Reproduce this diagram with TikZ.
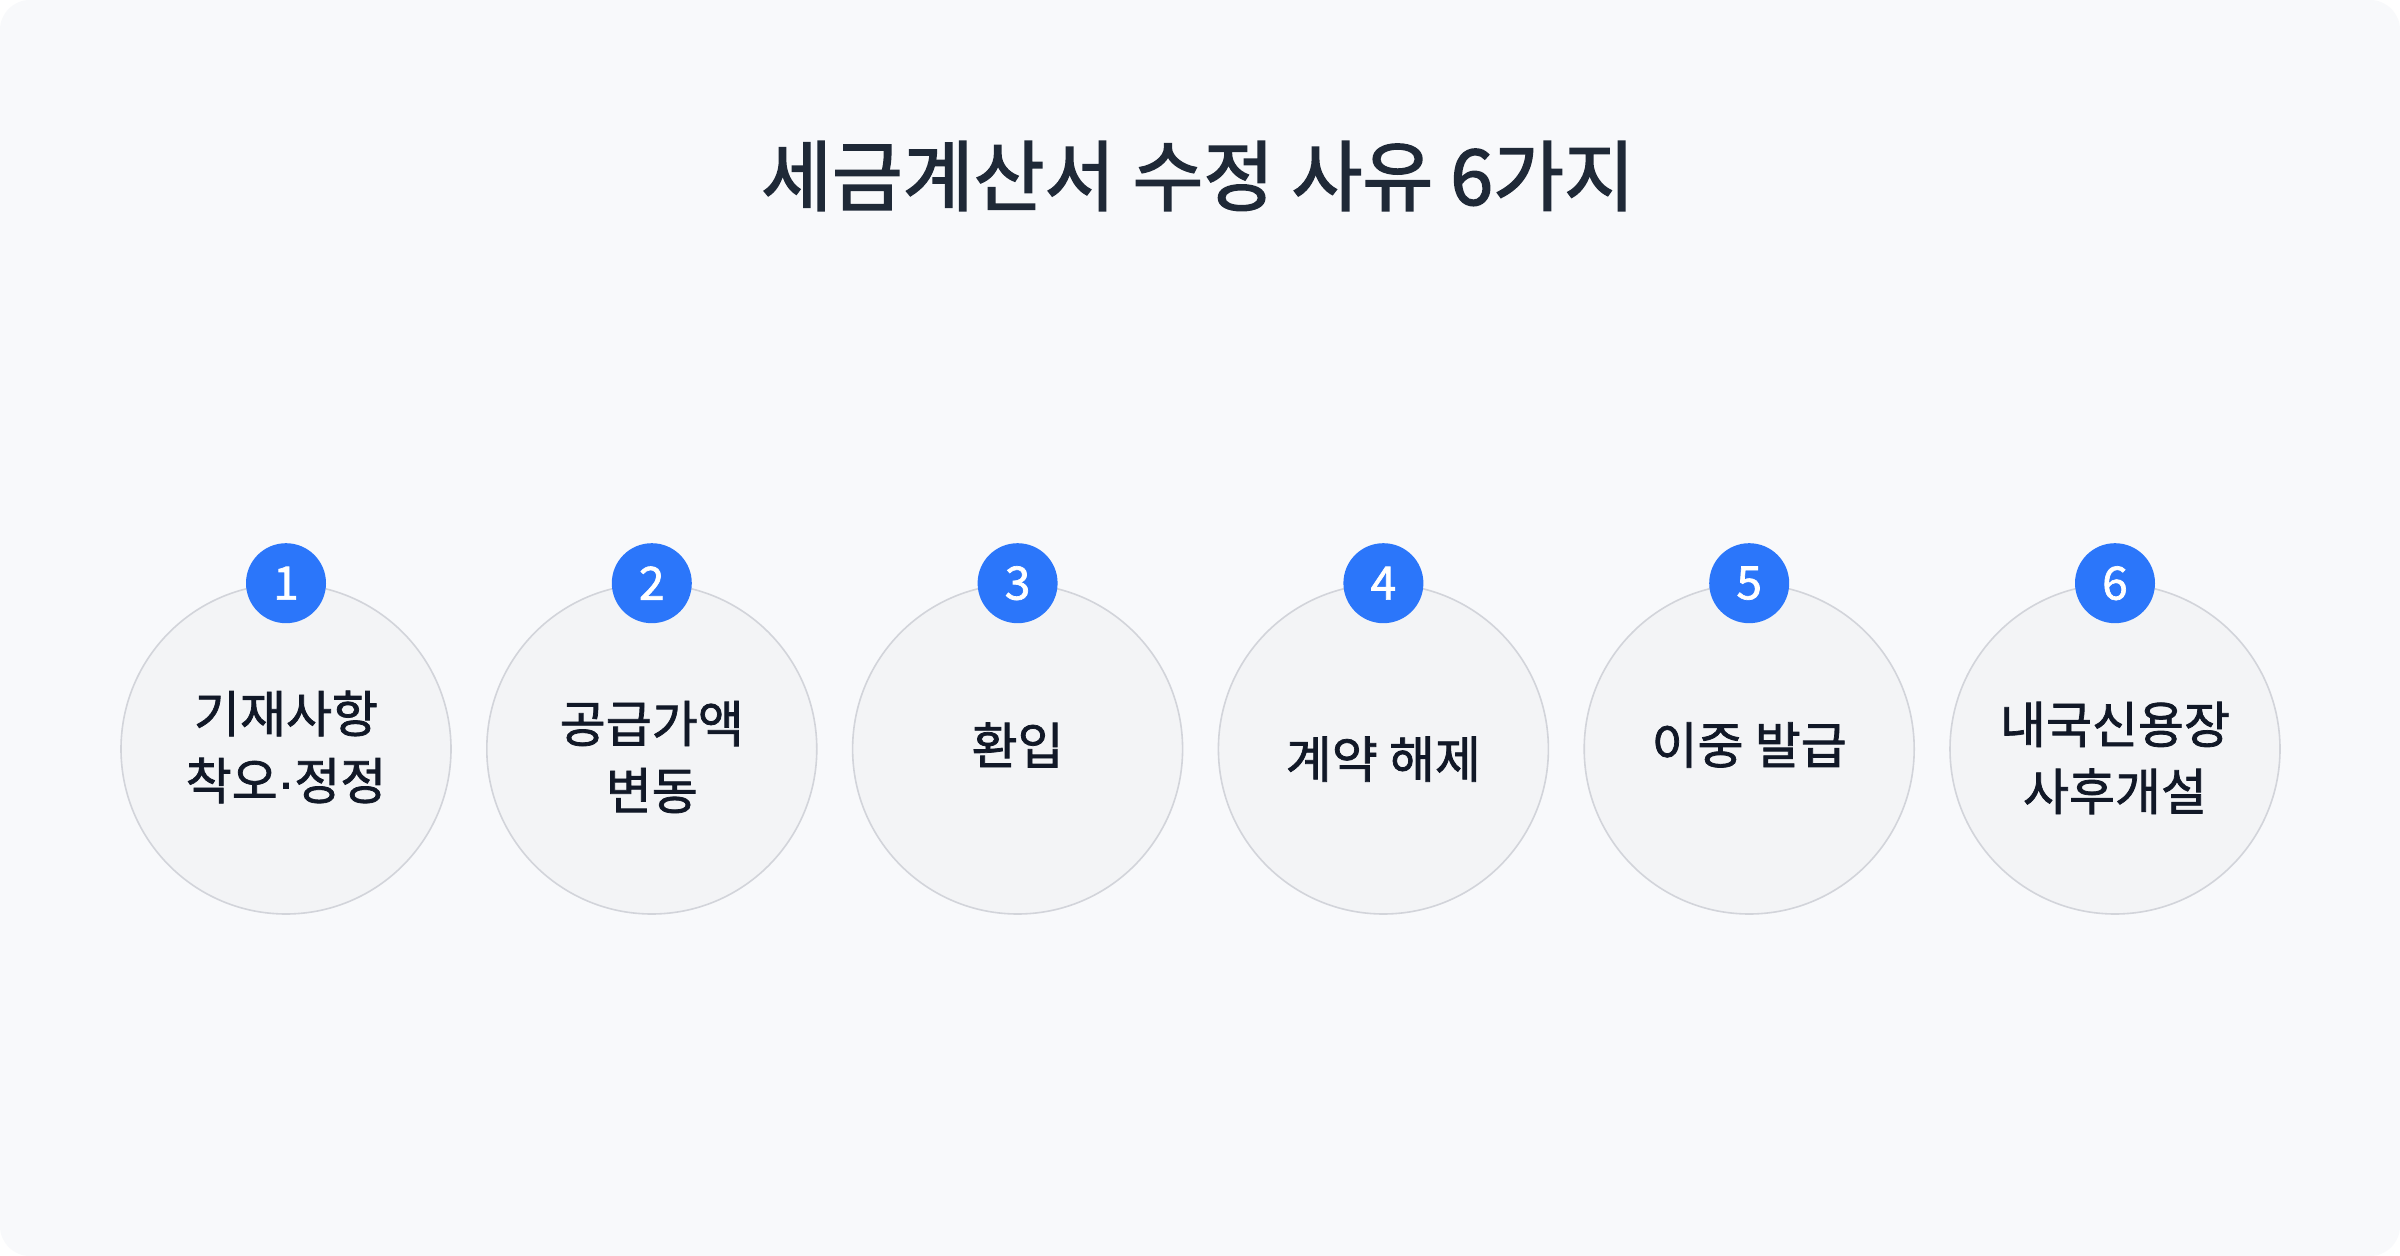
\documentclass[tikz,border=0pt]{standalone}
\usepackage{xcolor}
\usepackage{fontspec}
\setmainfont{Noto Sans CJK KR}
\newfontfamily\heavyfont[FakeBold=2]{Noto Sans CJK KR}
\newfontfamily\midfont[FakeBold=1.5]{Noto Sans CJK KR}
\newfontfamily\dotfont[FakeBold=1.5]{Liberation Sans}
\usepackage{tikz}
\usetikzlibrary{positioning}
\usetikzlibrary{calc}
\definecolor{panel}{HTML}{F8F9FB}
\definecolor{circfill}{HTML}{F3F4F6}
\definecolor{circline}{HTML}{D2D4DA}
\definecolor{badgeblue}{HTML}{2B76FA}
\definecolor{titleink}{HTML}{1F2937}
\definecolor{labelink}{HTML}{111827}
\tikzstyle{bigvertex}=[circle,fill=circfill,draw=circline,line width=0.8pt,minimum size=165pt,inner sep=0pt]
\tikzstyle{badge}=[circle,fill=badgeblue,minimum size=40pt,inner sep=0pt,text=white,font=\midfont\fontsize{23}{24}\selectfont]
\tikzstyle{reason} = [align=center,text=labelink,font=\midfont\fontsize{25}{33.5}\selectfont]
\tikzstyle{heading} = [text=titleink,font=\heavyfont\fontsize{38.5}{42}\selectfont]

\begin{document}
\begin{tikzpicture}[x=0.5pt,y=-0.5pt]

 \useasboundingbox (0,0) rectangle (2400,1256);
 \fill[white] (0,0) rectangle (2400,1256);
 \fill[panel, rounded corners=15pt] (0,0) rectangle (2400,1256);

 %title
 \node[heading] (title) at (1198,176) {세금계산서 수정 사유 6가지};

 %circles
 \def\dy{749};
 \def\u{365.8};

  \foreach \x/\name/\num in {0/c1/1, 1/c2/2, 2/c3/3, 3/c4/4, 4/c5/5, 5/c6/6}
         \node[bigvertex] (\name) at (\x*\u+286, \dy) {};

 %badges
  \foreach \name/\num in {c1/1, c2/2, c3/3, c4/4, c5/5, c6/6}
         \node[badge] (b\num) at (\name.north) {\num};

 %labels
  \foreach \name/\off/\label in {c1/-2/{기재사항\\착오{\dotfont ·}정정}, c2/8/{공급가액\\변동}, c3/-4/{환입},
                                 c4/10/{계약 해제}, c5/-4/{이중 발급}, c6/9/{내국신용장\\사후개설}}
         \node[reason] (t\name) at ($(\name.center)+(0,\off)$) {\label};

\end{tikzpicture}
\end{document}
